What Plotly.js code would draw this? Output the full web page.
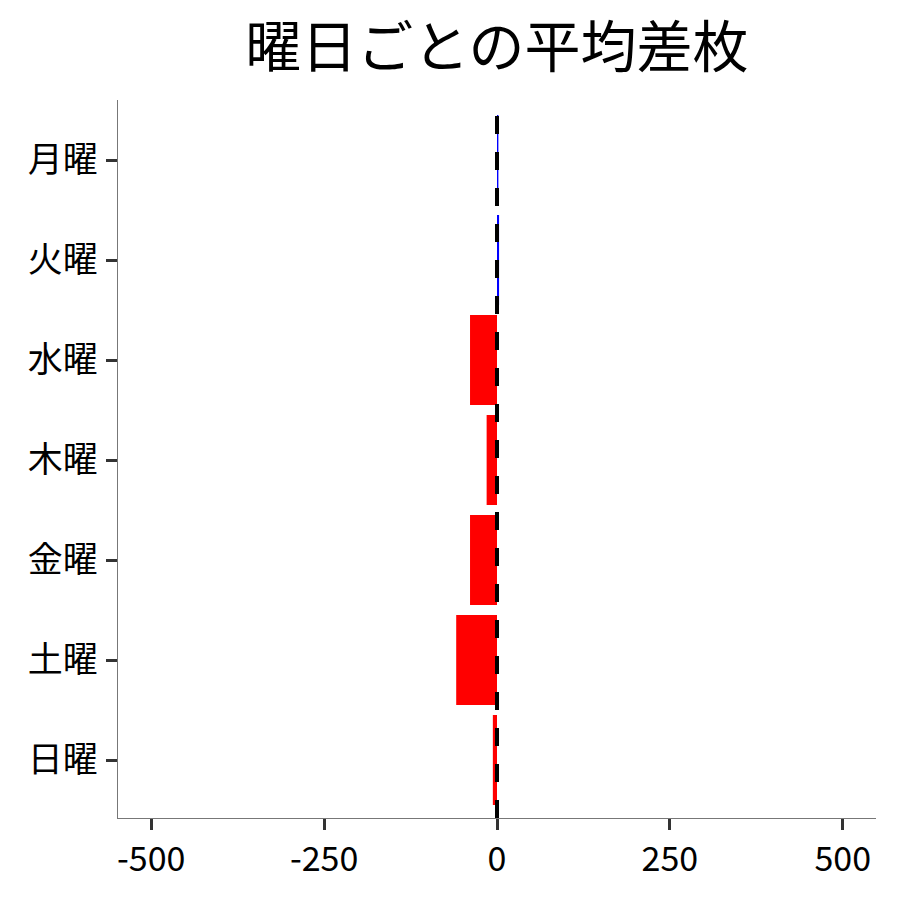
<!DOCTYPE html>
<html>
<head>
<meta charset="utf-8">
<script src="https://cdn.plot.ly/plotly-3.0.1.min.js"></script>
<style>html,body{margin:0;padding:0;background:#fff;}#chart{width:900px;height:900px;}</style>
</head>
<body>
<div id="chart"></div>
<script>
const days = ["月曜", "火曜", "水曜", "木曜", "金曜", "土曜", "日曜"];
const avgDiff = [2, 3, -39, -15, -39, -59, -6];
const xTicks = [-500, -250, 0, 250, 500];
const xTickLabels = ["-500", "-250", "0", "250", "500"];
const titleText = "曜日ごとの平均差枚";

const colors = avgDiff.map(v => v >= 0 ? "#0000FF" : "#FF0000");

const font = "'Noto Sans CJK JP', 'Noto Sans', sans-serif";

const trace = {
  type: "bar",
  orientation: "h",
  x: avgDiff,
  y: days,
  width: 0.9,
  marker: {color: colors, line: {width: 0}},
  hoverinfo: "x+y"
};

const layout = {
  width: 900,
  height: 900,
  margin: {l: 118, r: 24, t: 100, b: 82},
  paper_bgcolor: "#ffffff",
  plot_bgcolor: "#ffffff",
  showlegend: false,
  font: {family: font, color: "#000"},
  title: {
    text: titleText,
    font: {family: font, size: 56, color: "#000"},
    x: 0.5521, xanchor: "center",
    yref: "container",
    y: 0.947, yanchor: "middle"
  },
  xaxis: {
    range: [-548, 548],
    tickvals: xTicks,
    ticktext: xTickLabels,
    ticks: "outside",
    ticklen: 11,
    tickwidth: 3,
    tickcolor: "#333333",
    tickfont: {family: font, size: 34, color: "#000"},
    showgrid: false,
    zeroline: false,
    showline: true,
    linecolor: "#777777",
    linewidth: 1.2,
    fixedrange: true
  },
  yaxis: {
    type: "category",
    categoryorder: "array",
    categoryarray: days,
    range: [6.58, -0.6],
    ticks: "outside",
    ticklen: 11,
    tickwidth: 3,
    tickcolor: "#333333",
    tickfont: {family: font, size: 35, color: "#000"},
    ticklabelstandoff: 1,
    showgrid: false,
    zeroline: false,
    showline: true,
    linecolor: "#777777",
    linewidth: 1.2,
    fixedrange: true
  },
  shapes: [{
    type: "line",
    xref: "x", yref: "paper",
    x0: 0, x1: 0, y0: 0, y1: 1,
    line: {color: "#000000", width: 4, dash: "18px,18px"},
    layer: "above"
  }]
};

Plotly.newPlot("chart", [trace], layout, {displayModeBar: false, staticPlot: true});
</script>
</body>
</html>
